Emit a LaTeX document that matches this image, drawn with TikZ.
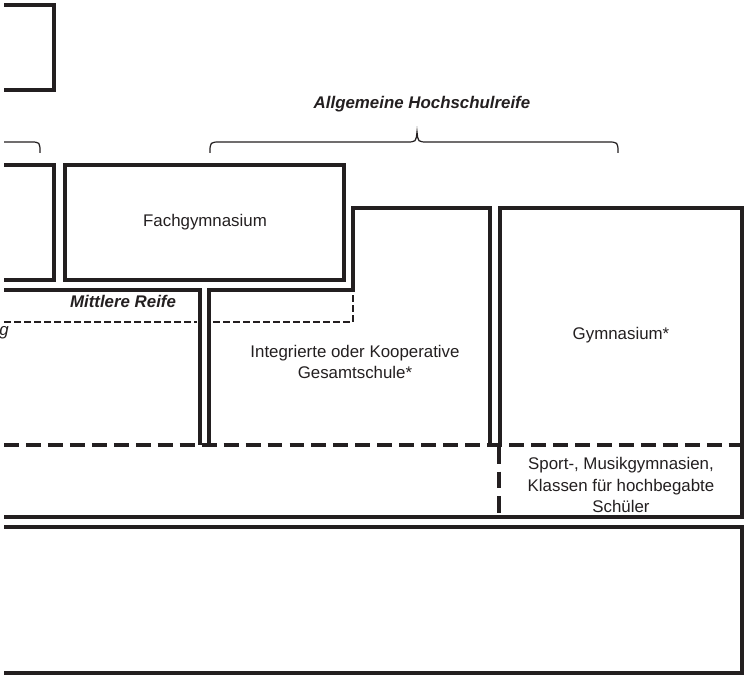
\documentclass[tikz,border=0pt]{standalone}
\usepackage{fontspec}
\setmainfont{Liberation Sans}
\usepackage{tikz}
\usetikzlibrary{positioning}
\definecolor{ink}{HTML}{231F20}

\begin{document}
\begin{tikzpicture}[
    x=0.02cm, y=-0.02cm,
    wall/.style={draw=ink, line width=2pt, line join=miter},
    thinline/.style={draw=ink, line width=0.8pt, dash pattern=on 3.8pt off 1.9pt},
    thickline/.style={draw=ink, line width=2pt, dash pattern=on 8.5pt off 4pt},
    brace/.style={draw=ink, line width=0.7pt},
    label/.style={text=ink, font=\fontsize{9.6}{12.3}\selectfont, align=center, inner sep=0pt},
    title/.style={label, font=\fontsize{9.6}{12.3}\selectfont\bfseries\itshape}
]
\useasboundingbox (0,0) rectangle (745,675);

% Upper boxes
\draw[wall] (4,5) -- (54,5) -- (54,90) -- (4,90);
\draw[wall] (4,165) -- (54,165) -- (54,280) -- (4,280);
\draw[wall] (65,165) rectangle (344,280);
\node[label] (fach) at (205,222) {Fachgymnasium};

% Braces
\draw[brace] (4,142) -- (30,142) .. controls (40,142) .. (40,153);
\draw[brace] (210,153) .. controls (210,142) .. (221,142) -- (406,142)
    .. controls (416,142) .. (417,132) .. controls (418,142) .. (428,142)
    -- (607,142) .. controls (618,142) .. (618,153);
\node[title] (allg) at (422,104) {Allgemeine Hochschulreife};

% Middle school forms
\draw[wall] (4,290) -- (200,290) -- (200,445);
\draw[wall] (209,445) -- (209,290) -- (353,290) -- (353,208) -- (490,208) -- (490,445);
\draw[wall] (500,445) -- (500,208) -- (742,208) -- (742,517) -- (4,517);
\node[title] (mittlere) at (123,301) {Mittlere Reife};
\draw[thinline] (4,322) -- (197,322);
\draw[thinline] (213,322) -- (353,322) -- (353,292);
\node[label, font=\fontsize{9.6}{12.3}\selectfont\itshape, anchor=east] (cut) at (9,333) {g};
\node[label] (ges) at (355,362) {Integrierte oder Kooperative\\Gesamtschule*};
\node[label] (gym) at (621,335) {Gymnasium*};

% Special classes
\draw[thickline] (4,445) -- (742,445);
\draw[thickline, dash pattern=on 9.5pt off 4.5pt] (499,447) -- (499,517);
\node[label] (spezial) at (621,485) {Sport-, Musikgymnasien,\\Klassen für hochbegabte\\Schüler};

% Bottom box
\draw[wall] (4,527) -- (742,527) -- (742,673) -- (4,673);

\end{tikzpicture}
\end{document}
